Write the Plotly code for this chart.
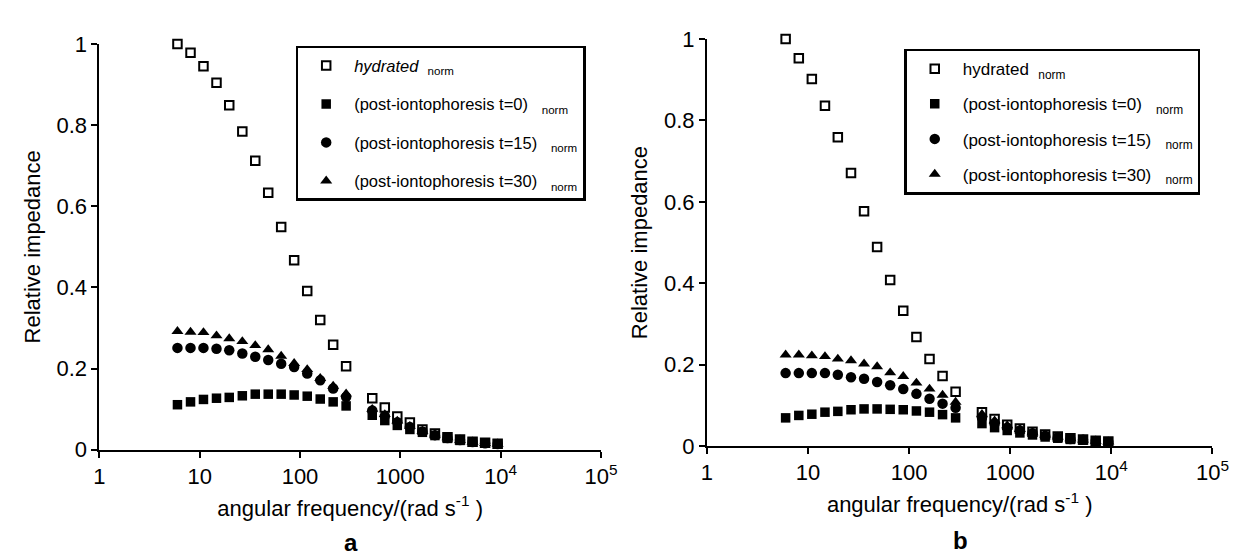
import plotly.graph_objects as go

# angular frequency (rad/s) - shared by both panels
freq = [6.0, 8.1, 10.9, 14.7, 19.7, 26.6, 35.8, 48.2, 64.9, 87.4, 118, 159, 214, 288,
        525, 700, 933, 1245, 1660, 2213, 2951, 3936, 5248, 6998, 9333]

# panel a
a_hyd = [1.0, 0.978, 0.945, 0.904, 0.849, 0.784, 0.712, 0.633, 0.549, 0.467, 0.391, 0.32, 0.259, 0.206,
         0.127, 0.104, 0.082, 0.067, 0.05, 0.04, 0.031, 0.025, 0.02, 0.017, 0.015]
a_t0 = [0.111, 0.118, 0.124, 0.127, 0.129, 0.133, 0.137, 0.137, 0.137, 0.135, 0.132, 0.125, 0.118, 0.108,
        0.085, 0.072, 0.06, 0.05, 0.043, 0.035, 0.028, 0.023, 0.019, 0.016, 0.014]
a_t15 = [0.251, 0.251, 0.251, 0.249, 0.245, 0.237, 0.229, 0.221, 0.212, 0.204, 0.188, 0.171, 0.151, 0.13,
         0.097, 0.083, 0.068, 0.056, 0.045, 0.036, 0.029, 0.024, 0.019, 0.016, 0.014]
a_t30 = [0.292, 0.29, 0.289, 0.281, 0.274, 0.267, 0.257, 0.247, 0.231, 0.213, 0.198, 0.176, 0.157, 0.138,
         0.1, 0.087, 0.071, 0.058, 0.046, 0.037, 0.03, 0.024, 0.019, 0.016, 0.014]

# panel b
b_hyd = [1.0, 0.953, 0.902, 0.836, 0.759, 0.671, 0.577, 0.489, 0.408, 0.332, 0.268, 0.214, 0.172, 0.133,
         0.083, 0.066, 0.052, 0.043, 0.035, 0.028, 0.023, 0.019, 0.016, 0.013, 0.011]
b_t0 = [0.069, 0.075, 0.078, 0.083, 0.085, 0.089, 0.091, 0.091, 0.09, 0.089, 0.086, 0.083, 0.077, 0.069,
        0.055, 0.045, 0.038, 0.032, 0.027, 0.022, 0.019, 0.016, 0.014, 0.011, 0.01]
b_t15 = [0.179, 0.179, 0.179, 0.179, 0.175, 0.169, 0.165, 0.157, 0.149, 0.14, 0.128, 0.116, 0.104, 0.094,
         0.07, 0.055, 0.045, 0.038, 0.031, 0.025, 0.021, 0.017, 0.015, 0.012, 0.01]
b_t30 = [0.224, 0.224, 0.222, 0.22, 0.214, 0.21, 0.202, 0.195, 0.18, 0.171, 0.155, 0.14, 0.125, 0.108,
         0.078, 0.062, 0.05, 0.041, 0.033, 0.027, 0.022, 0.018, 0.015, 0.012, 0.01]

x_tickvals = [1, 10, 100, 1000, 1e4, 1e5]
x_ticktext = ["1", "10", "100", "1000", "10<sup>4</sup>", "10<sup>5</sup>"]
y_tickvals = [0, 0.2, 0.4, 0.6, 0.8, 1.0]
y_ticktext = ["0", "0.2", "0.4", "0.6", "0.8", "1"]

names_a = ["<i>hydrated</i>  <sub>norm</sub>", "(post-iontophoresis t=0)   <sub>norm</sub>",
           "(post-iontophoresis t=15)   <sub>norm</sub>", "(post-iontophoresis t=30)   <sub>norm</sub>"]
names_b = ["hydrated  <sub>norm</sub>", "(post-iontophoresis t=0)   <sub>norm</sub>",
           "(post-iontophoresis t=15)   <sub>norm</sub>", "(post-iontophoresis t=30)   <sub>norm</sub>"]

W, H = 1245, 556
FONT = "Liberation Sans, Arial, sans-serif"

styles = [
    dict(symbol="square", size=8.5, color="white", line=dict(color="black", width=2)),
    dict(symbol="square", size=9.5, color="black", line=dict(color="black", width=0)),
    dict(symbol="circle", size=10.5, color="black", line=dict(color="black", width=0)),
    dict(symbol="triangle-up", size=10.5, color="black", line=dict(color="black", width=0)),
]

fig = go.Figure()
for panel, (series, names, xa, ya, leg) in enumerate([
        ([a_hyd, a_t0, a_t15, a_t30], names_a, "x", "y", "legend"),
        ([b_hyd, b_t0, b_t15, b_t30], names_b, "x2", "y2", "legend2")]):
    for i, (vals, nm) in enumerate(zip(series, names)):
        fig.add_trace(go.Scatter(
            x=freq, y=vals, mode="markers", name=nm, marker=styles[i],
            xaxis=xa, yaxis=ya, legend=leg, legendgroup=f"{panel}_{i}",
            cliponaxis=False, showlegend=True))


def xaxis(dom, anchor):
    return dict(type="log", range=[0, 5], domain=dom, anchor=anchor,
                tickvals=x_tickvals, ticktext=x_ticktext, ticks="outside", ticklen=6,
                tickwidth=1.5, tickcolor="black", showline=True, linewidth=2, linecolor="black",
                showgrid=False, zeroline=False,
                tickfont=dict(family=FONT, size=22, color="black"),
                title=dict(text="angular frequency/(rad s<sup>-1</sup> )",
                           font=dict(family=FONT, size=22, color="black"), standoff=12))


def yaxis(dom, anchor):
    return dict(range=[0, 1.0], domain=dom, anchor=anchor,
                tickvals=y_tickvals, ticktext=y_ticktext, ticks="outside", ticklen=6,
                tickwidth=1.5, tickcolor="black", showline=True, linewidth=2, linecolor="black",
                showgrid=False, zeroline=False,
                tickfont=dict(family=FONT, size=22, color="black"),
                title=dict(text="Relative impedance",
                           font=dict(family=FONT, size=22, color="black"), standoff=10))


def legend(x0, y0, size, gap):
    return dict(x=x0 / W, y=1 - y0 / H, xanchor="left", yanchor="top",
                bordercolor="black", borderwidth=2.5, bgcolor="white",
                font=dict(family=FONT, size=size, color="black"),
                traceorder="grouped", tracegroupgap=gap, itemwidth=46)


fig.update_layout(
    width=W, height=H, margin=dict(l=0, r=0, t=0, b=0),
    paper_bgcolor="white", plot_bgcolor="white",
    xaxis=xaxis([87 / W, 598 / W], "y"),
    yaxis=yaxis([(H - 450) / H, (H - 25) / H], "x"),
    xaxis2=xaxis([706 / W, 1221 / W], "y2"),
    yaxis2=yaxis([(H - 446) / H, (H - 20) / H], "x2"),
    legend=legend(287, 27, 16.5, 14),
    legend2=legend(907, 30, 17, 10),
    annotations=[
        dict(text="<b>a</b>", x=343 / W, y=1 - 547 / H, xref="paper", yref="paper",
             xanchor="center", yanchor="middle",
             showarrow=False, font=dict(family=FONT, size=24, color="black")),
        dict(text="<b>b</b>", x=964 / W, y=1 - 545 / H, xref="paper", yref="paper",
             xanchor="center", yanchor="middle",
             showarrow=False, font=dict(family=FONT, size=24, color="black")),
    ],
)

fig.write_html("out.html")
